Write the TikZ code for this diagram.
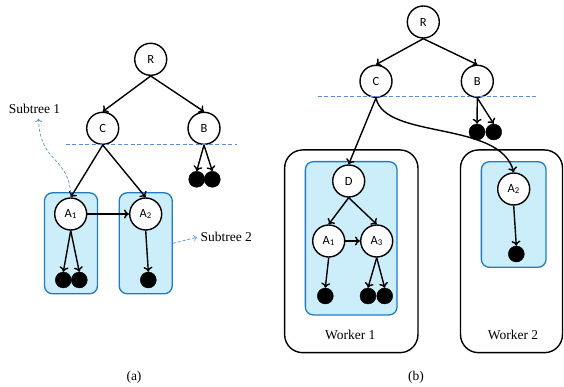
\documentclass[tikz,border=0pt]{standalone}
\usepackage{fontspec}
\setmainfont{Liberation Serif}
\newfontfamily\nodefont{Carlito}
\usetikzlibrary{arrows.meta}
\definecolor{cutline}{RGB}{91,143,216}
\definecolor{subfill}{RGB}{204,238,250}
\definecolor{subdraw}{RGB}{31,123,196}

\begin{document}
\begin{tikzpicture}[x=1pt, y=-1pt,
  every node/.style={font=\fontsize{13.5}{16}\selectfont},
  vtx/.style={circle, draw, line width=1.4pt, fill=white, minimum size=32pt, inner sep=0pt,
              font=\nodefont\fontsize{12.5}{14}\selectfont},
  leaf/.style={circle, draw=black, fill=black, minimum size=16pt, inner sep=0pt},
  sub/.style={rectangle, rounded corners=8pt, draw=subdraw, fill=subfill, line width=1.3pt, inner sep=0pt},
  worker/.style={rectangle, rounded corners=18pt, draw, line width=1.4pt, inner sep=0pt},
  arr/.style={-{To[length=5pt,width=9pt]}, line width=1.4pt},
  cut/.style={draw=cutline, line width=0.8pt, dash pattern=on 4pt off 2.5pt},
  note/.style={-{To[length=3.5pt,width=7pt]}, draw=cutline, line width=0.7pt, dash pattern=on 3pt off 2pt}
]
  \useasboundingbox (0,0) rectangle (564,387);

  % (a) one tree, two subtrees
  \node[sub, minimum width=53pt, minimum height=101pt] (sa1) at (71,243.3) {};
  \node[sub, minimum width=53pt, minimum height=101pt] (sa2) at (145.7,243.3) {};

  \node[vtx] (ra) at (150.7,59.3) {R};
  \node[vtx] (ca) at (102.7,128.3) {C};
  \node[vtx] (ba) at (204,128.3) {B};
  \node[vtx] (a1a) at (70.7,214) {A\textsubscript{1}};
  \node[vtx] (a2a) at (145.7,214) {A\textsubscript{2}};
  \node[leaf] (lb1a) at (196.7,179.3) {};
  \node[leaf] (lb2a) at (212.3,179.3) {};
  \node[leaf] (l11a) at (63.3,280) {};
  \node[leaf] (l12a) at (79.3,280) {};
  \node[leaf] (l2a) at (148.3,280) {};

  \coordinate (cutla) at (65.7,144.3);
  \coordinate (cutra) at (236.7,144.3);
  \draw[cut] (cutla) -- (cutra);

  \draw[arr] (ra.south) -- (ca.north);
  \draw[arr] (ra.south) -- (ba.north);
  \draw[arr] (ca.south) -- (a1a.north);
  \draw[arr] (ca.south) -- (a2a.north);
  \draw[arr] (ba.south) -- (lb1a.north);
  \draw[arr] (ba.south) -- (lb2a.north);
  \draw[arr] (a1a.east) -- (a2a.west);
  \draw[arr] (a1a.south) -- (l11a.north);
  \draw[arr] (a1a.south) -- (l12a.north);
  \draw[arr] (a2a.south) -- (l2a.north);

  \node (st1) at (34.5,109.3) {Subtree 1};
  \node[anchor=west] (st2) at (197,237.3) {Subtree 2};
  \draw[note] ([yshift=-6pt]sa1.north) .. controls (70,155) and (40,165) .. ([xshift=4pt,yshift=-1pt]st1.south);
  \draw[note] (sa2.east) -- (st2.west);

  \node (capa) at (134,377.3) {(a)};

  % (b) two workers
  \node[worker, minimum width=133.3pt, minimum height=202.7pt] (w1) at (351.3,251.3) {};
  \node[worker, minimum width=102pt, minimum height=202.7pt] (w2) at (511.5,251.3) {};
  \node[sub, minimum width=91.7pt, minimum height=153.3pt] (sb1) at (351.2,238.3) {};
  \node[sub, minimum width=64.7pt, minimum height=105.6pt] (sb2) at (513.7,214.5) {};

  \node[vtx] (rb) at (423.3,22) {R};
  \node[vtx] (cb) at (376,81.3) {C};
  \node[vtx] (bb) at (477.3,81.3) {B};
  \node[vtx] (db) at (348.7,181) {D};
  \node[vtx] (a1b) at (328.7,241) {A\textsubscript{1}};
  \node[vtx] (a3b) at (376.7,241) {A\textsubscript{3}};
  \node[vtx] (a2b) at (513.7,189) {A\textsubscript{2}};
  \node[leaf] (lb1b) at (477,132) {};
  \node[leaf] (lb2b) at (493.7,132) {};
  \node[leaf] (l1b) at (325.3,296) {};
  \node[leaf] (l31b) at (368,296) {};
  \node[leaf] (l32b) at (384.7,296) {};
  \node[leaf] (l2b) at (516.3,254) {};

  \coordinate (cutlb) at (317.7,96.7);
  \coordinate (cutrb) at (537,96.7);
  \draw[cut] (cutlb) -- (cutrb);

  \draw[arr] (rb.south) -- (cb.north);
  \draw[arr] (rb.south) -- (bb.north);
  \draw[arr] (bb.south) -- (lb1b.north);
  \draw[arr] (bb.south) -- (lb2b.north);
  \draw[arr] (cb.south) -- (db.north);
  \draw[arr] (cb.south) .. controls (385,140) and (500,120) .. (a2b.north);
  \draw[arr] (db.south) -- (a1b.north);
  \draw[arr] (db.south) -- (a3b.north);
  \draw[arr] (a1b.east) -- (a3b.west);
  \draw[arr] (a1b.south) -- (l1b.north);
  \draw[arr] (a3b.south) -- (l31b.north);
  \draw[arr] (a3b.south) -- (l32b.north);
  \draw[arr] (a2b.south) -- (l2b.north);

  \node (wl1) at (350.3,335) {Worker 1};
  \node (wl2) at (513,335) {Worker 2};

  \node (capb) at (416,377.3) {(b)};
\end{tikzpicture}
\end{document}
